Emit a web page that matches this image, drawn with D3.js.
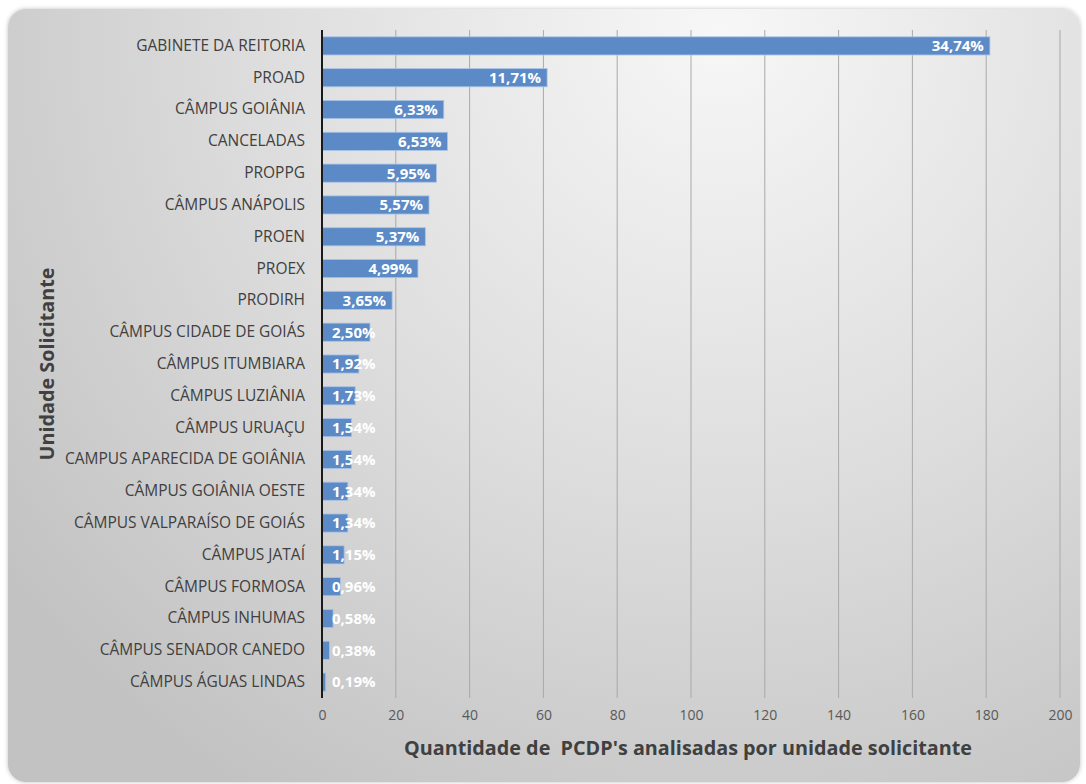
<!DOCTYPE html>
<html><head><meta charset="utf-8">
<script src="https://cdn.jsdelivr.net/npm/d3@7"></script>
<style>html,body{margin:0;padding:0;background:#fff;overflow:hidden}</style>
</head><body>
<svg id="chart" width="1086" height="784"></svg>
<script>
const categories = ["GABINETE DA REITORIA","PROAD","CÂMPUS GOIÂNIA","CANCELADAS","PROPPG","CÂMPUS ANÁPOLIS","PROEN","PROEX","PRODIRH","CÂMPUS CIDADE DE GOIÁS","CÂMPUS ITUMBIARA","CÂMPUS LUZIÂNIA","CÂMPUS URUAÇU","CAMPUS APARECIDA DE GOIÂNIA","CÂMPUS GOIÂNIA OESTE","CÂMPUS VALPARAÍSO DE GOIÁS","CÂMPUS JATAÍ","CÂMPUS FORMOSA","CÂMPUS INHUMAS","CÂMPUS SENADOR CANEDO","CÂMPUS ÁGUAS LINDAS"];
const values = [181,61,33,34,31,29,28,26,19,13,10,9,8,8,7,7,6,5,3,2,1];
const labels = ["34,74%","11,71%","6,33%","6,53%","5,95%","5,57%","5,37%","4,99%","3,65%","2,50%","1,92%","1,73%","1,54%","1,54%","1,34%","1,34%","1,15%","0,96%","0,58%","0,38%","0,19%"];
const xTicks = [0,20,40,60,80,100,120,140,160,180,200];
const xTitle = "Quantidade de  PCDP's analisadas por unidade solicitante";
const yTitle = "Unidade Solicitante";

const svg = d3.select("#chart");
const defs = svg.append("defs");
const rg = defs.append("radialGradient").attr("id","bg")
  .attr("gradientUnits","userSpaceOnUse").attr("cx",720).attr("cy",30).attr("r",900)
  .attr("fx",720).attr("fy",30);
rg.append("stop").attr("offset","0").attr("stop-color","#f7f7f7");
rg.append("stop").attr("offset","0.5").attr("stop-color","#dedede");
rg.append("stop").attr("offset","1").attr("stop-color","#c2c2c2");
const flt = defs.append("filter").attr("id","sh").attr("x","-5%").attr("y","-5%").attr("width","110%").attr("height","110%");
flt.append("feDropShadow").attr("dx",0).attr("dy",0).attr("stdDeviation",2).attr("flood-color","#000").attr("flood-opacity",0.25);

svg.append("rect").attr("x",8).attr("y",9).attr("width",1072).attr("height",773)
  .attr("rx",18).attr("fill","url(#bg)").attr("filter","url(#sh)");

const x = d3.scaleLinear().domain([0,200]).range([322,1060]);
const y = d3.scaleBand().domain(categories).range([30,698]).paddingInner(0.43).paddingOuter(0.215);

// gridlines
svg.append("g").selectAll("line").data(xTicks.filter(d=>d>0)).join("line")
  .attr("x1",d=>x(d)).attr("x2",d=>x(d)).attr("y1",30).attr("y2",698)
  .attr("stroke","#a9a9a9").attr("stroke-width",1);

// bars
svg.append("g").selectAll("rect").data(values).join("rect")
  .attr("x",x(0)).attr("y",(d,i)=>y(categories[i]))
  .attr("width",d=>x(d)-x(0)).attr("height",y.bandwidth())
  .attr("fill","#5b8ac6").attr("stroke","#a8c3e6").attr("stroke-width",0.8);

// axis line
svg.append("line").attr("x1",x(0)).attr("x2",x(0)).attr("y1",30).attr("y2",698)
  .attr("stroke","#1a1a1a").attr("stroke-width",2);

// x axis
const xAxis = d3.axisBottom(x).tickValues(xTicks).tickSize(0).tickPadding(0);
const gx = svg.append("g").attr("transform","translate(0,710)").call(xAxis);
gx.select(".domain").remove();
gx.selectAll("text").attr("font-family","'Open Sans', sans-serif").attr("font-size",14)
  .attr("fill","#595959").attr("dy","0.71em");

// y axis labels
const yAxis = d3.axisLeft(y).tickSize(0).tickPadding(17);
const gy = svg.append("g").attr("transform",`translate(${x(0)},0)`).call(yAxis);
gy.select(".domain").remove();
gy.selectAll("text").attr("font-family","'Open Sans', sans-serif").attr("font-size",15.5)
  .attr("fill","#404040");

// data labels
const lbl = svg.append("g").selectAll("text").data(values).join("text")
  .attr("y",(d,i)=>y(categories[i])+y.bandwidth()/2)
  .attr("dy","0.36em").attr("text-anchor","end")
  .attr("font-family","'Open Sans', sans-serif").attr("font-weight","bold").attr("font-size",15)
  .attr("fill","#ffffff")
  .text((d,i)=>labels[i]);
lbl.each(function(d){
  const w = this.getComputedTextLength();
  const end = Math.max(x(d)-6, x(0)+10+w);
  d3.select(this).attr("x", end);
});

// titles
svg.append("text").attr("x",688).attr("y",755).attr("text-anchor","middle")
  .attr("font-family","'Open Sans', sans-serif").attr("font-weight","bold").attr("font-size",19.8)
  .attr("fill","#404040").attr("xml:space","preserve").style("white-space","pre").text(xTitle);
svg.append("text").attr("transform","translate(54,364) rotate(-90)").attr("text-anchor","middle")
  .attr("font-family","'Open Sans', sans-serif").attr("font-weight","bold").attr("font-size",19.8)
  .attr("fill","#404040").text(yTitle);
</script>
</body></html>
